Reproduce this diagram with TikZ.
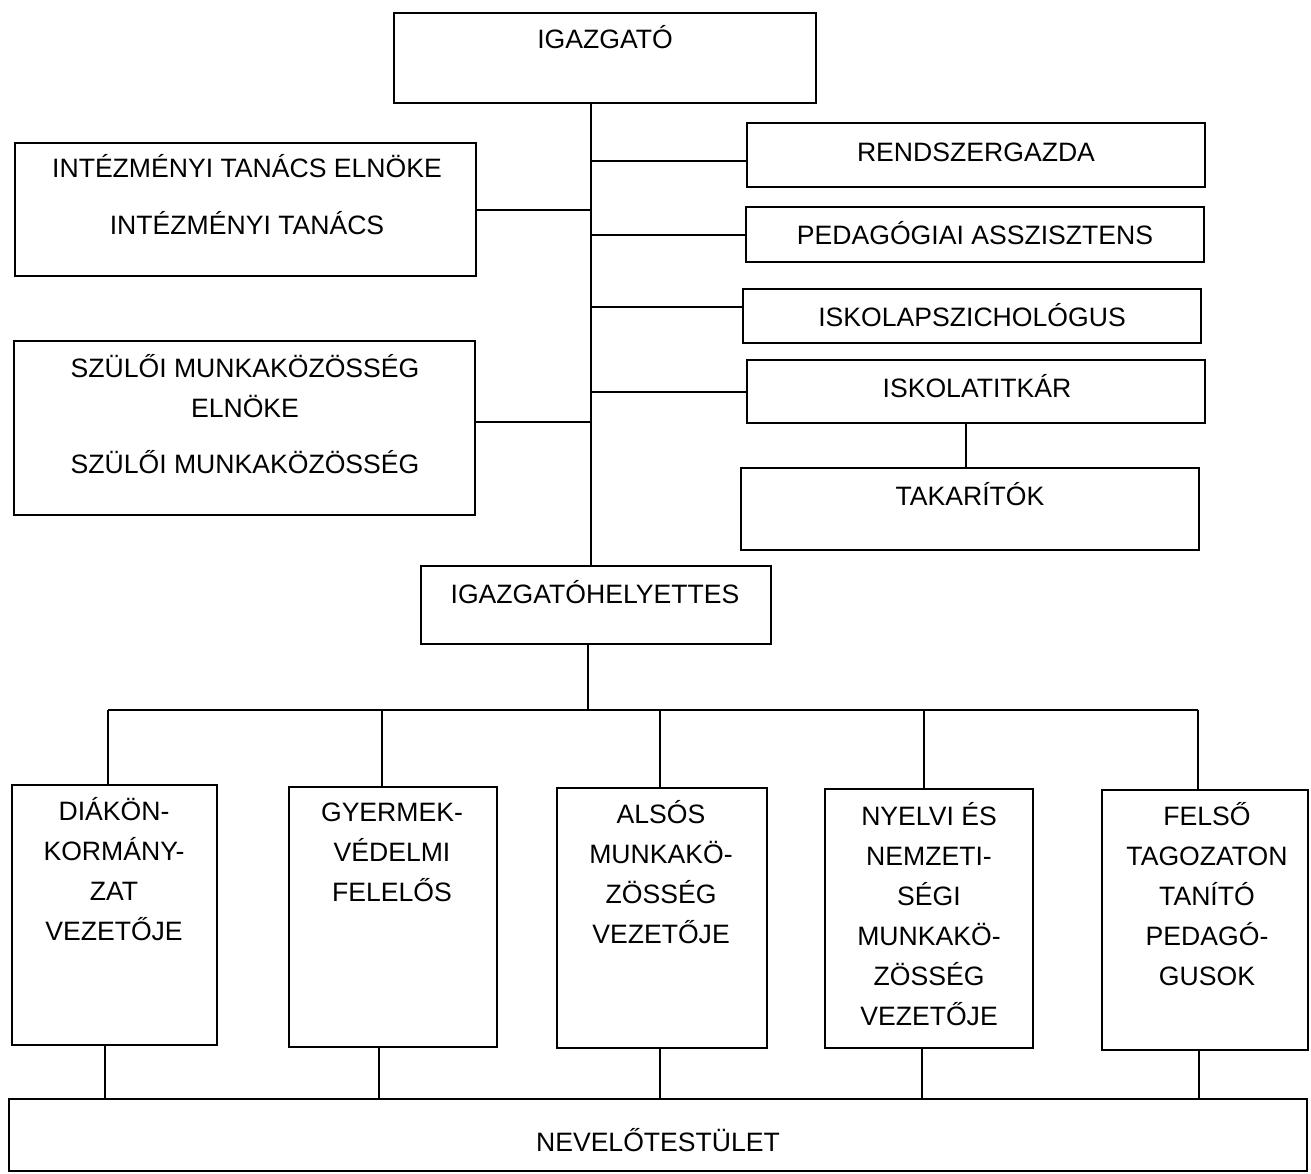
\documentclass[tikz,border=0pt]{standalone}
\usepackage{fontspec}
\setmainfont{Liberation Sans}
\usetikzlibrary{fit}
\begin{document}
\begin{tikzpicture}[x=0.5pt,y=-0.5pt,
  box/.style={draw, line width=1pt, inner sep=0pt},
  txt/.style={font=\fontsize{13.3}{20}\selectfont, align=center, anchor=base, inner sep=0pt},
  conn/.style={line width=1pt}]
\useasboundingbox (0,0) rectangle (1311,1173);
\newcommand\mybox[5]{\node[box, fit={(#2,#3) (#4,#5)}] (#1) {};}
% boxes
\mybox{igaz}{394}{13}{816}{103}
\mybox{it}{15}{143}{476}{276}
\mybox{sz}{14}{341}{475}{515}
\mybox{rend}{747}{123}{1205}{187}
\mybox{ped}{746}{207}{1204}{262}
\mybox{iskp}{743}{289}{1201}{343}
\mybox{iskt}{747}{360}{1205}{423}
\mybox{tak}{741}{468}{1199}{550}
\mybox{igh}{421}{566}{771}{644}
\mybox{b1}{12}{785}{217}{1045}
\mybox{b2}{289}{787}{497}{1047}
\mybox{b3}{557}{788}{767}{1048}
\mybox{b4}{825}{789}{1033}{1048}
\mybox{b5}{1102}{790}{1308}{1050}
\mybox{nev}{9}{1099}{1307}{1171}
% texts (anchor=base is the baseline of the last line)
\node[txt] (tigaz) at (605,48) {IGAZGATÓ};
\node[txt] (tit) at (247,234) {INTÉZMÉNYI TANÁCS ELNÖKE\\[8.5pt]INTÉZMÉNYI TANÁCS};
\node[txt] (tsz) at (245,473) {SZÜLŐI MUNKAKÖZÖSSÉG\\ELNÖKE\\[8pt]SZÜLŐI MUNKAKÖZÖSSÉG};
\node[txt] (trend) at (976,161) {RENDSZERGAZDA};
\node[txt] (tped) at (975,244) {PEDAGÓGIAI ASSZISZTENS};
\node[txt] (tiskp) at (972,326) {ISKOLAPSZICHOLÓGUS};
\node[txt] (tiskt) at (977,397) {ISKOLATITKÁR};
\node[txt] (ttak) at (970,505) {TAKARÍTÓK};
\node[txt] (tigh) at (595,603) {IGAZGATÓHELYETTES};
\node[txt] (tb1) at (114,940) {DIÁKÖN-\\KORMÁNY-\\ZAT\\VEZETŐJE};
\node[txt] (tb2) at (392,901) {GYERMEK-\\VÉDELMI\\FELELŐS};
\node[txt] (tb3) at (661,943) {ALSÓS\\MUNKAKÖ-\\ZÖSSÉG\\VEZETŐJE};
\node[txt] (tb4) at (929,1025) {NYELVI ÉS\\NEMZETI-\\SÉGI\\MUNKAKÖ-\\ZÖSSÉG\\VEZETŐJE};
\node[txt] (tb5) at (1207,985) {FELSŐ\\TAGOZATON\\TANÍTÓ\\PEDAGÓ-\\GUSOK};
\node[txt] (tnev) at (658,1151) {NEVELŐTESTÜLET};
% trunk
\coordinate (tr) at (591,0);
\draw[conn] (igaz.south -| tr) -- (igh.north -| tr);
\draw[conn] (it.east) -- (it.east -| tr);
\draw[conn] ([yshift=3pt]sz.east) coordinate (csz) -- (csz -| tr);
\draw[conn] ([yshift=-3pt]rend.west) coordinate (crend) -- (crend -| tr);
\draw[conn] (ped.west) -- (ped.west -| tr);
\draw[conn] ([yshift=4.5pt]iskp.west) coordinate (ciskp) -- (ciskp -| tr);
\draw[conn] (iskt.west) -- (iskt.west -| tr);
\draw[conn] ([xshift=-2pt]tak.north) coordinate (ctak) -- (ctak |- iskt.south);
% lower tree
\coordinate (tr2) at (588,710);
\draw[conn] (igh.south -| tr2) -- (tr2);
\coordinate (d1) at (108,710);
\coordinate (d2) at (382,710);
\coordinate (d3) at (660,710);
\coordinate (d4) at (924,710);
\coordinate (d5) at (1198,710);
\draw[conn] (d1) -- (d5);
\foreach \i in {1,...,5} {\draw[conn] (d\i) -- (d\i |- b\i.north);}
\coordinate (u1) at (105,1070);
\coordinate (u2) at (379,1070);
\coordinate (u3) at (660,1070);
\coordinate (u4) at (922,1070);
\coordinate (u5) at (1199,1070);
\foreach \i in {1,...,5} {\draw[conn] (b\i.south -| u\i) -- (u\i |- nev.north);}
\end{tikzpicture}
\end{document}
